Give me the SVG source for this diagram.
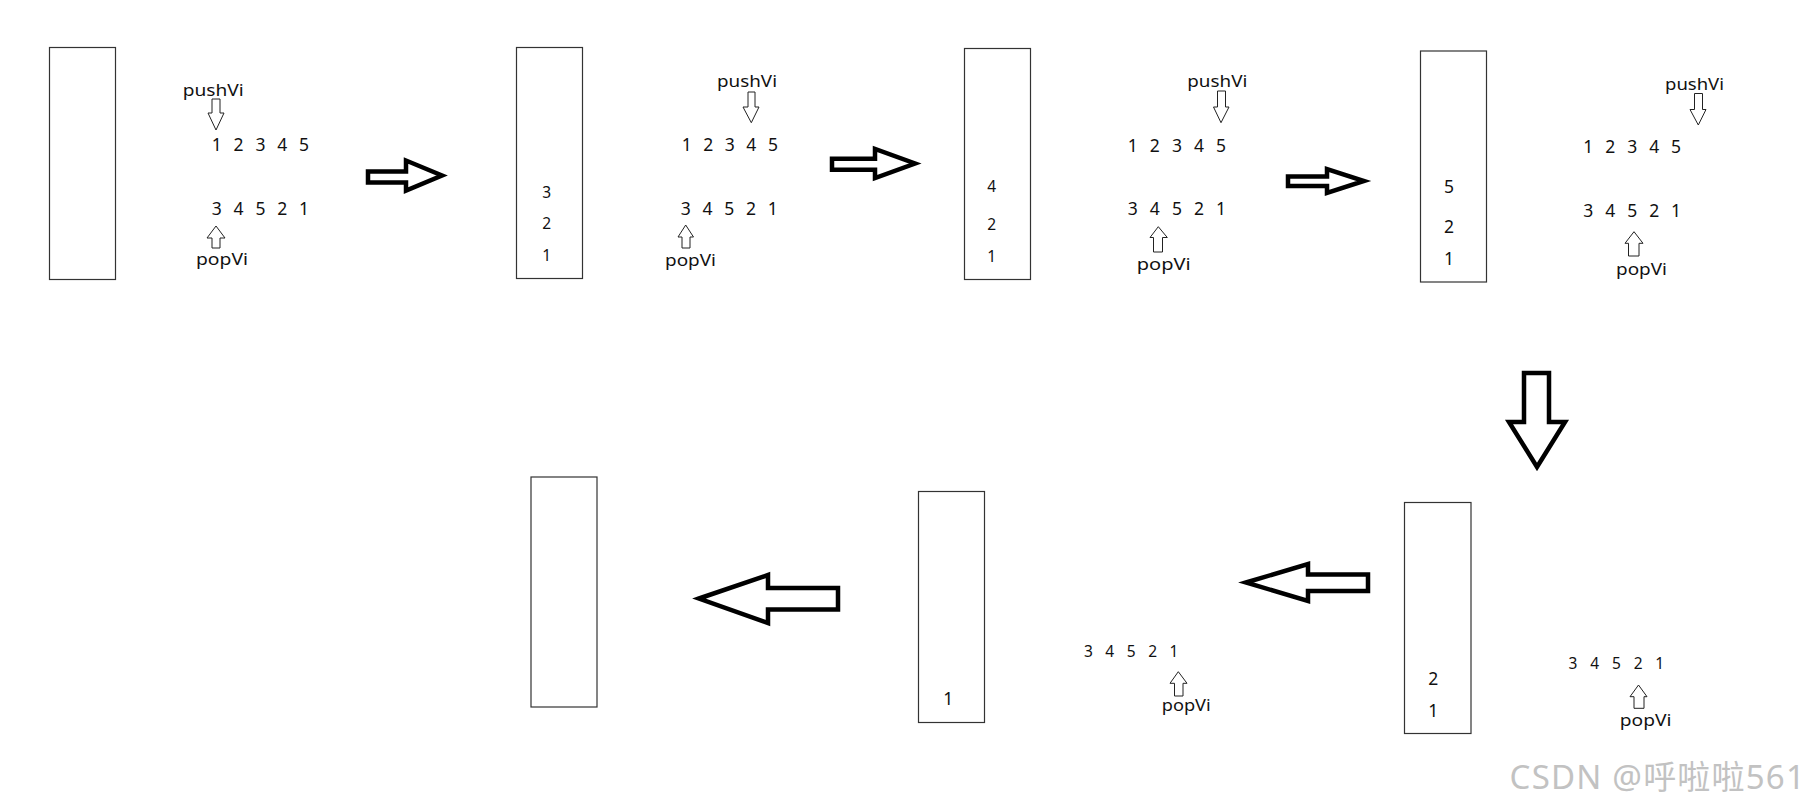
<svg xmlns="http://www.w3.org/2000/svg" width="1813" height="811" viewBox="0 0 1813 811">
<style>
.stack{fill:#fff;stroke:#333;stroke-width:1.2}
.big{fill:#fff;stroke:#000;stroke-width:4.5;stroke-linejoin:miter}
.small{fill:#fff;stroke:#222;stroke-width:1}
text{font-family:"Noto Sans","Open Sans",sans-serif;fill:#111}
.row{font-size:17.5px}
.row2{font-size:15.5px}
.lbl{font-size:16.5px}
.num{text-anchor:middle}
.wm{font-family:"Noto Sans","Noto Sans CJK SC",sans-serif;font-size:33px;letter-spacing:1.2px;fill:#c2c2c2;text-anchor:end}
</style>
<rect width="1813" height="811" fill="#fff"/>

<g id="stage1">
<rect class="stack" x="49.5" y="47.5" width="66" height="232"/>
<text class="lbl" x="182.7" y="96" textLength="61" lengthAdjust="spacingAndGlyphs">pushVi</text>
<path class="small" d="M212,99 H220 V113 H224 L216,130 L208,113 H212 Z"/>
<text class="row" x="260.4" y="150.7" text-anchor="middle" word-spacing="7.3">1 2 3 4 5</text>
<text class="row" x="260.4" y="215" text-anchor="middle" word-spacing="7.3">3 4 5 2 1</text>
<path class="small" d="M216,226 L225,238 H220 V248 H212 V238 H207 Z"/>
<text class="lbl" x="196" y="265" textLength="52" lengthAdjust="spacingAndGlyphs">popVi</text>
</g>

<g id="stage2">
<rect class="stack" x="516.5" y="47.5" width="66" height="231"/>
<text class="row2 num" x="546.7" y="198">3</text>
<text class="row2 num" x="546.7" y="229">2</text>
<text class="row2 num" x="546.7" y="261">1</text>
<text class="lbl" x="717" y="86.7" textLength="60" lengthAdjust="spacingAndGlyphs">pushVi</text>
<path class="small" d="M748,92 H755 V107 H759 L751.3,122.7 L743,107 H748 Z"/>
<text class="row" x="729.8" y="150.7" text-anchor="middle" word-spacing="7.0">1 2 3 4 5</text>
<text class="row" x="729.2" y="215" text-anchor="middle" word-spacing="7.2">3 4 5 2 1</text>
<path class="small" d="M685.7,225 L693.5,237 H690 V248 H682 V237 H678 Z"/>
<text class="lbl" x="665" y="266" textLength="51" lengthAdjust="spacingAndGlyphs">popVi</text>
</g>

<g id="stage3">
<rect class="stack" x="964.5" y="48.5" width="66" height="231"/>
<text class="row2 num" x="991.7" y="191.7">4</text>
<text class="row2 num" x="991.7" y="230">2</text>
<text class="row2 num" x="991.7" y="262.3">1</text>
<text class="lbl" x="1187.3" y="87.3" textLength="60" lengthAdjust="spacingAndGlyphs">pushVi</text>
<path class="small" d="M1217.5,91 H1225.5 V107 H1229 L1221,122.7 L1213.5,107 H1217.5 Z"/>
<text class="row" x="1176.9" y="151.7" text-anchor="middle" word-spacing="7.5">1 2 3 4 5</text>
<text class="row" x="1176.9" y="215" text-anchor="middle" word-spacing="7.5">3 4 5 2 1</text>
<path class="small" d="M1158.3,226.7 L1167.3,237.5 H1162.5 V252 H1153.5 V237.5 H1150 Z"/>
<text class="lbl" x="1136.7" y="269.5" textLength="54" lengthAdjust="spacingAndGlyphs">popVi</text>
</g>

<g id="stage4">
<rect class="stack" x="1420.5" y="51" width="66" height="231"/>
<text class="row num" x="1449" y="193.3">5</text>
<text class="row num" x="1449" y="232.7">2</text>
<text class="row num" x="1449" y="265">1</text>
<text class="lbl" x="1665" y="89.5" textLength="59" lengthAdjust="spacingAndGlyphs">pushVi</text>
<path class="small" d="M1694.5,93.5 H1702.5 V109.5 H1706 L1698.3,125 L1690,109.5 H1694.5 Z"/>
<text class="row" x="1632.2" y="153.3" text-anchor="middle" word-spacing="7.4">1 2 3 4 5</text>
<text class="row" x="1632.2" y="217.3" text-anchor="middle" word-spacing="7.4">3 4 5 2 1</text>
<path class="small" d="M1634,231.7 L1643,243.3 H1639 V256 H1628.5 V243.3 H1625 Z"/>
<text class="lbl" x="1616" y="274.5" textLength="51" lengthAdjust="spacingAndGlyphs">popVi</text>
</g>

<g id="stage5">
<rect class="stack" x="1404.5" y="502.5" width="66.5" height="231"/>
<text class="row num" x="1433.3" y="685">2</text>
<text class="row num" x="1433.3" y="716.7">1</text>
<text class="row2" x="1616.4" y="669.3" text-anchor="middle" word-spacing="8.8">3 4 5 2 1</text>
<path class="small" d="M1638.5,685 L1647,696.7 H1644 V708.3 H1634 V696.7 H1630 Z"/>
<text class="lbl" x="1619.8" y="725.5" font-size="15.5" textLength="51.7" lengthAdjust="spacingAndGlyphs">popVi</text>
</g>

<g id="stage6">
<rect class="stack" x="918.5" y="491.5" width="66" height="231"/>
<text class="row num" x="948.3" y="705">1</text>
<text class="row2" x="1131.2" y="657.3" text-anchor="middle" word-spacing="8.5">3 4 5 2 1</text>
<path class="small" d="M1178.3,671.7 L1187,683.3 H1183 V696 H1174.5 V683.3 H1170 Z"/>
<text class="lbl" x="1161.7" y="711" font-size="15.5" textLength="49" lengthAdjust="spacingAndGlyphs">popVi</text>
</g>

<g id="stage7">
<rect class="stack" x="531" y="477" width="66" height="230"/>
</g>

<g id="connectors">
<path class="big" d="M368,171.5 H406 V160.5 L442,175.5 L406,190.5 V182.5 H368 Z"/>
<path class="big" d="M832,158.7 H875 V149 L915,163.5 L875,178 V169.7 H832 Z"/>
<path class="big" d="M1288,176.5 H1327 V169 L1364,181 L1327,193 V186 H1288 Z"/>
<path class="big" d="M1524,373 H1549 V422 H1565 L1537,467 L1509,422 H1524 Z"/>
<path class="big" d="M1246,582.5 L1308,564 V574.5 H1368 V591 H1308 V601 Z"/>
<path class="big" d="M699,598.5 L768,575 V588 H838 V609.5 H768 V623 Z"/>
</g>

<text class="wm" x="1806" y="789">CSDN @呼啦啦561</text>
</svg>
